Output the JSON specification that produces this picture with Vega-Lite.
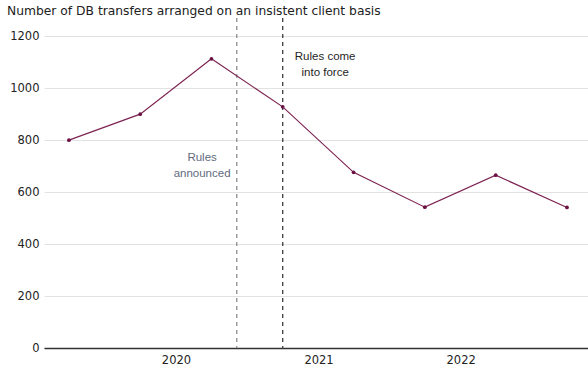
{
  "$schema": "https://vega.github.io/schema/vega-lite/v6.json",
  "width": 544,
  "height": 330,
  "autosize": {"type": "none"},
  "padding": {"left": 44, "top": 18, "right": 0, "bottom": 21},
  "title": {
    "text": "Number of DB transfers arranged on an insistent client basis",
    "anchor": "start",
    "frame": "group",
    "dx": -37,
    "offset": 0,
    "font": "DejaVu Sans",
    "fontSize": 12.3,
    "fontWeight": "normal",
    "color": "#222222"
  },
  "config": {
    "view": {"stroke": null},
    "axis": {
      "labelFont": "DejaVu Sans",
      "labelFontSize": 11.5,
      "labelColor": "#222222",
      "title": null,
      "ticks": false
    }
  },
  "datasets": {
    "transfers": [
      {"period": "2019-04-01", "count": 800},
      {"period": "2019-10-01", "count": 900},
      {"period": "2020-04-01", "count": 1113},
      {"period": "2020-10-01", "count": 928},
      {"period": "2021-04-01", "count": 676},
      {"period": "2021-10-01", "count": 542},
      {"period": "2022-04-01", "count": 665},
      {"period": "2022-10-01", "count": 541}
    ],
    "notes": [
      {"date": "2020-03-08", "y": 730, "label": ["Rules", "announced"], "kind": "announced"},
      {"date": "2021-01-18", "y": 1121, "label": ["Rules come", "into force"], "kind": "in force"}
    ]
  },
  "encoding": {
    "x": {
      "field": "date",
      "type": "temporal",
      "scale": {
        "domain": [
          {"year": 2019, "month": 1, "date": 27},
          {"year": 2022, "month": 11, "date": 24}
        ]
      },
      "axis": {
        "values": [
          {"year": 2020, "month": 1, "date": 1},
          {"year": 2021, "month": 1, "date": 1},
          {"year": 2022, "month": 1, "date": 1}
        ],
        "format": "%Y",
        "grid": false,
        "domainColor": "#333333",
        "domainWidth": 1.5,
        "labelPadding": 6
      }
    }
  },
  "layer": [
    {
      "data": {"values": [{"date": "2020-06-05"}]},
      "mark": {"type": "rule", "strokeDash": [4, 4], "strokeWidth": 1.4, "color": "#959595"},
      "encoding": {}
    },
    {
      "data": {"values": [{"date": "2020-10-01"}]},
      "mark": {"type": "rule", "strokeDash": [4, 4], "strokeWidth": 1.4, "color": "#4a4a4a"},
      "encoding": {}
    },
    {
      "data": {"name": "transfers"},
      "mark": {
        "type": "line",
        "color": "#7d2452",
        "strokeWidth": 1.2,
        "point": {"filled": true, "size": 14, "color": "#6a1042"}
      },
      "encoding": {
        "x": {"field": "period", "type": "temporal"},
        "y": {
          "field": "count",
          "type": "quantitative",
          "scale": {"domain": [0, 1270], "nice": false},
          "axis": {
            "values": [0, 200, 400, 600, 800, 1000, 1200],
            "format": "d",
            "domain": false,
            "gridColor": "#e2e2e2",
            "labelPadding": 5
          }
        }
      }
    },
    {
      "data": {"name": "notes"},
      "transform": [{"filter": "datum.kind === 'announced'"}],
      "mark": {
        "type": "text",
        "font": "Liberation Sans",
        "fontSize": 11.5,
        "align": "center",
        "baseline": "middle",
        "lineHeight": 16,
        "color": "#5f6b7d"
      },
      "encoding": {
        "y": {"field": "y", "type": "quantitative"},
        "text": {"field": "label"}
      }
    },
    {
      "data": {"name": "notes"},
      "transform": [{"filter": "datum.kind === 'in force'"}],
      "mark": {
        "type": "text",
        "font": "Liberation Sans",
        "fontSize": 11.5,
        "align": "center",
        "baseline": "middle",
        "lineHeight": 16,
        "color": "#1f1f1f"
      },
      "encoding": {
        "y": {"field": "y", "type": "quantitative"},
        "text": {"field": "label"}
      }
    }
  ]
}
